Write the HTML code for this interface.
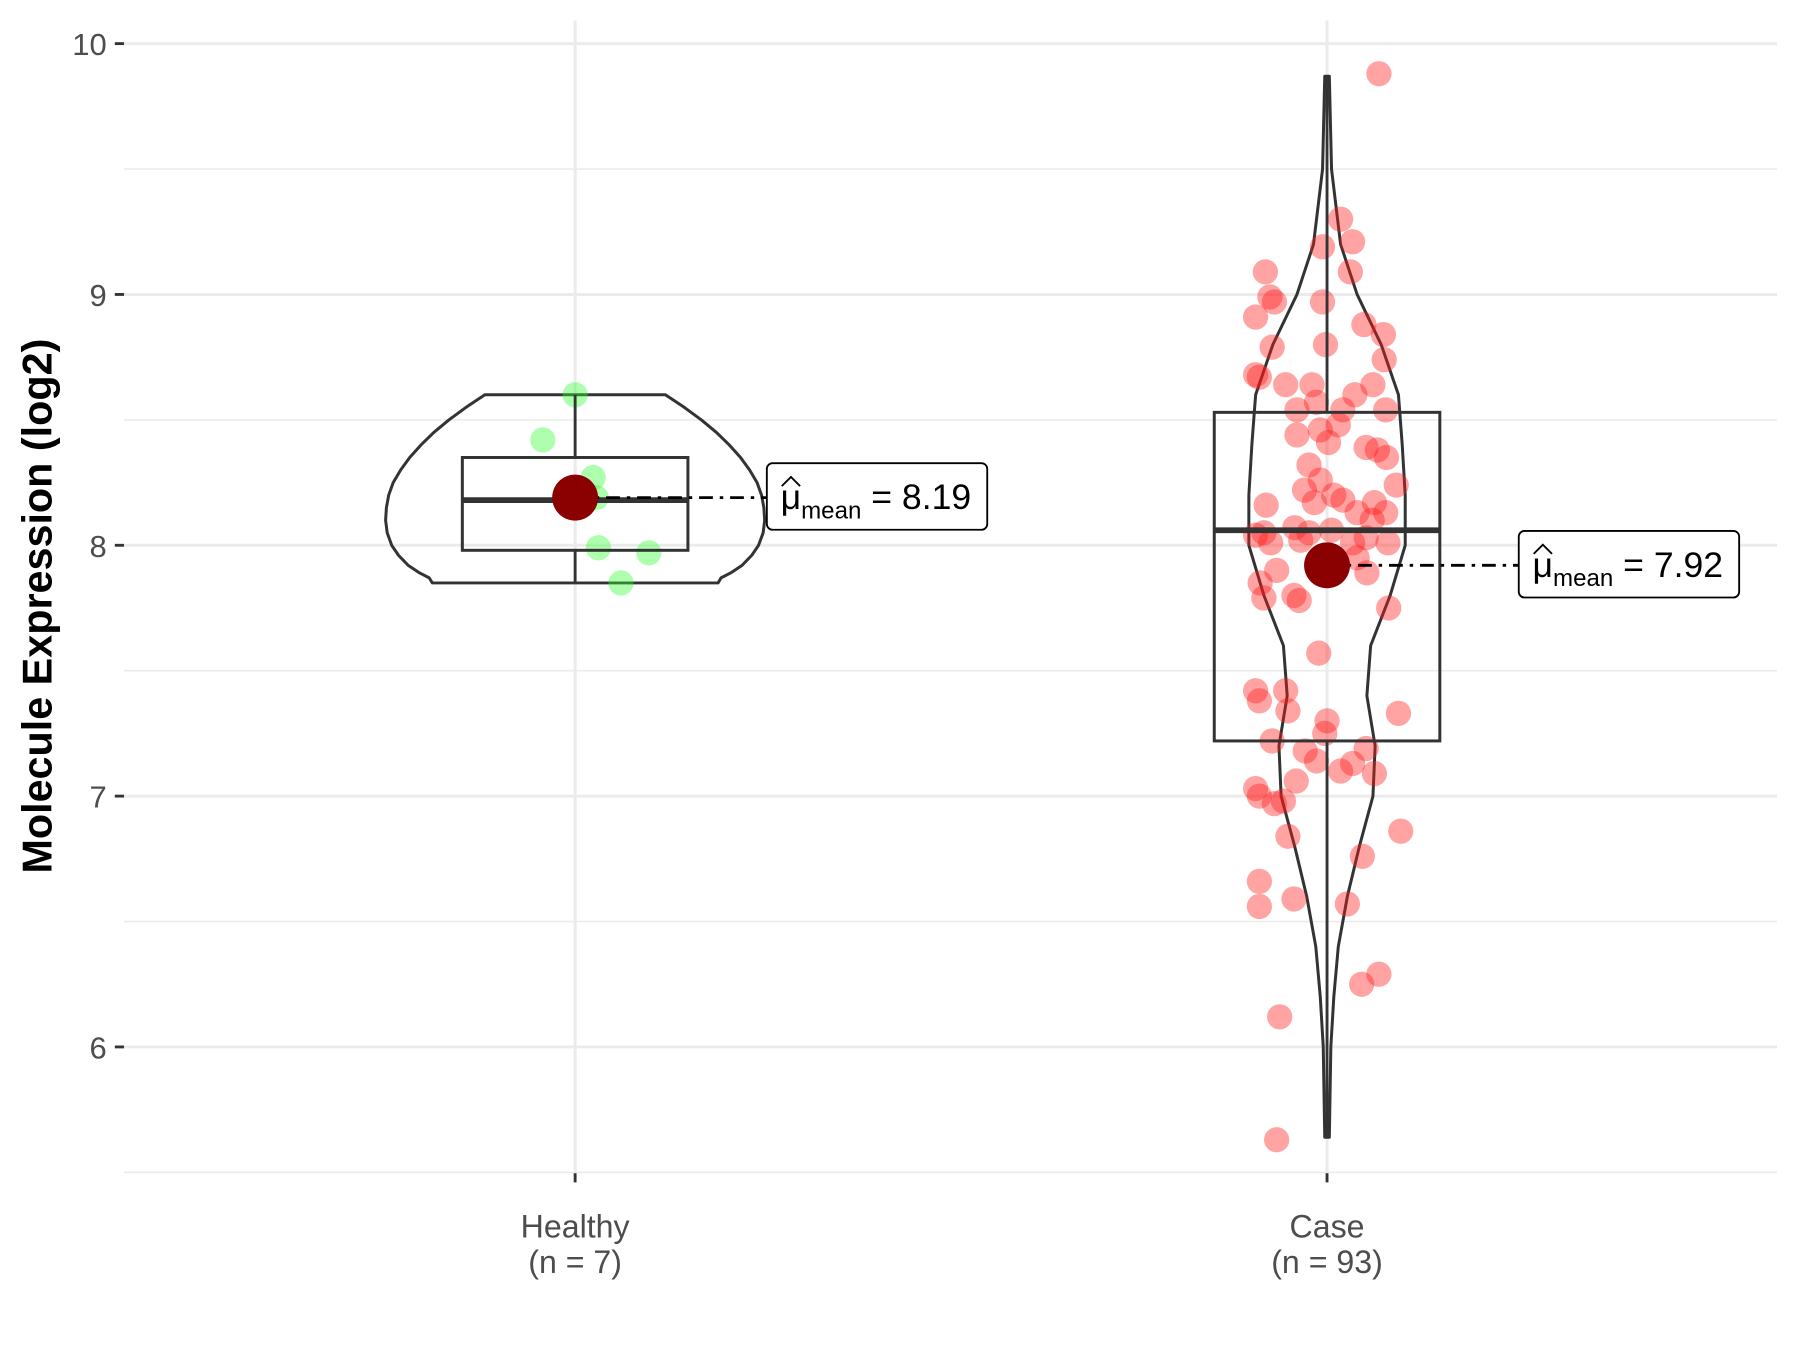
<!DOCTYPE html>
<html><head><meta charset="utf-8"><style>
html,body{margin:0;padding:0;background:#fff}
svg{display:block;font-family:"Liberation Sans",sans-serif}
</style></head><body>
<svg id="chart" width="1800" height="1350" viewBox="0 0 1568 1176" preserveAspectRatio="none" xmlns="http://www.w3.org/2000/svg">
<g id="grid"></g>
<g id="axes"></g>
<g id="marks"></g>
<text transform="translate(45,528) rotate(-90)" text-anchor="middle" font-size="36" font-weight="bold" fill="#000">Molecule Expression (log2)</text>
</svg>
<script>
const categories = ["Healthy","Case"];
const counts = [7,93];
const yTicks = [6,7,8,9,10];
const means = [8.19,7.92];
const q1s = [7.98,7.22];
const medians = [8.18,8.06];
const q3s = [8.35,8.53];
const whiskLo = [7.85,5.64];
const whiskHi = [8.60,9.87];
const healthyVals = [8.60,8.42,8.27,8.19,7.99,7.97,7.85];
const healthyJit = [0,-0.043,0.024,0.028,0.031,0.098,0.061];
const caseVals = [9.88,9.30,9.21,9.19,9.09,9.09,8.99,8.97,8.97,8.91,8.88,8.84,8.79,8.80,8.74,8.68,8.67,8.64,8.64,8.64,8.60,8.57,8.54,8.54,8.54,8.44,8.46,8.41,8.39,8.38,8.35,8.32,8.26,8.24,8.20,8.18,8.17,8.17,8.16,8.13,8.13,8.07,8.05,8.05,8.06,8.03,8.04,8.01,8.02,8.01,8.01,7.90,7.89,7.85,7.80,7.78,7.79,7.75,7.57,7.42,7.42,7.38,7.34,7.33,7.25,7.22,7.18,7.19,7.13,7.14,7.10,7.09,7.06,7.03,7.00,6.97,6.98,6.76,6.86,6.84,6.66,6.59,6.56,6.57,6.25,6.29,6.12,5.63,8.10,7.95,8.48,8.22,7.30];
const caseJit = [0.069,0.018,0.034,-0.006,-0.082,0.031,-0.076,-0.070,-0.006,-0.095,0.049,0.075,-0.073,-0.002,0.076,-0.095,-0.090,-0.055,-0.020,0.061,0.037,-0.014,-0.040,0.021,0.078,-0.040,-0.009,0.002,0.052,0.067,0.079,-0.024,-0.009,0.092,0.009,0.021,-0.017,0.063,-0.081,0.040,0.078,-0.043,-0.024,-0.084,0.006,0.052,-0.095,-0.075,-0.035,0.034,0.081,-0.067,0.053,-0.089,-0.044,-0.037,-0.084,0.082,-0.011,-0.055,-0.095,-0.090,-0.052,0.095,-0.003,-0.073,-0.029,0.052,0.034,-0.014,0.018,0.063,-0.041,-0.095,-0.090,-0.070,-0.058,0.047,0.098,-0.052,-0.090,-0.044,-0.090,0.027,0.046,0.069,-0.063,-0.067,0.06,0.04,0.015,-0.03,0.0];
const healthyViolinY = [8.60,8.55,8.5,8.45,8.4,8.35,8.3,8.25,8.2,8.15,8.1,8.05,8.0,7.96,7.92,7.89,7.87,7.85];
const healthyViolinW = [0.12,0.145,0.168,0.188,0.205,0.22,0.232,0.242,0.248,0.251,0.252,0.25,0.244,0.235,0.222,0.207,0.194,0.19];
const caseViolinY = [9.87,9.5,9.2,9.0,8.8,8.6,8.4,8.2,8.0,7.8,7.6,7.4,7.2,7.0,6.8,6.6,6.4,6.2,6.0,5.64];
const caseViolinW = [0.003,0.006,0.018,0.04,0.072,0.095,0.1,0.104,0.104,0.084,0.058,0.053,0.064,0.061,0.043,0.027,0.015,0.009,0.005,0.003];

const NS="http://www.w3.org/2000/svg";
const xs = c => 501 + c*655;
const xu = u => u*655;
const ys = v => 38 + (10 - v)*218.5;
function mk(parent,tag,attrs){const e=document.createElementNS(NS,tag);for(const k in attrs)e.setAttribute(k,attrs[k]);parent.appendChild(e);return e;}
const grid=document.getElementById('grid'),axes=document.getElementById('axes'),marks=document.getElementById('marks');
for(let v=5.5;v<=10;v+=0.5){
  const l=mk(grid,'line',{x1:108,x2:1548,y1:ys(v),y2:ys(v),stroke:'#ebebeb','stroke-width':v%1===0?2.6:1.4});
  
  
}
categories.forEach((c,i)=>{
  const l=mk(grid,'line',{x1:xs(i),x2:xs(i),y1:18,y2:1022,stroke:'#ebebeb','stroke-width':2.6});
  
  
  const t=mk(axes,'line',{x1:xs(i),x2:xs(i),y1:1022,y2:1030,stroke:'#333','stroke-width':2.5});
  
  
  const tx=mk(axes,'text',{x:xs(i),y:1078,'text-anchor':'middle','font-size':28,fill:'#4d4d4d'});
  
  
  tx.textContent=c;
  const tn=mk(axes,'text',{x:xs(i),y:1109,'text-anchor':'middle','font-size':28,fill:'#4d4d4d'});
  
  
  tn.textContent='(n = '+counts[i]+')';
});
yTicks.forEach(v=>{
  const t=mk(axes,'line',{x1:100,x2:108,y1:ys(v),y2:ys(v),stroke:'#333','stroke-width':2.5});
  
  
  const tx=mk(axes,'text',{x:93,y:ys(v)+10,'text-anchor':'end','font-size':27,fill:'#4d4d4d'});
  
  
  tx.textContent=v;
});
function violin(i,Y,W,name){
  let r=Y.map((y,k)=>[xs(i)+xu(W[k]),ys(y)]);
  let l=Y.map((y,k)=>[xs(i)-xu(W[k]),ys(y)]).reverse();
  const pts=r.concat(l);
  let d='M'+pts.map(p=>p[0].toFixed(1)+','+p[1].toFixed(1)).join(' L')+' Z';
  const p=mk(marks,'path',{d:d,fill:'none',stroke:'#333','stroke-width':2.6,'stroke-linejoin':'round'});
  
  
}
violin(0,healthyViolinY,healthyViolinW,'violin-healthy');
violin(1,caseViolinY,caseViolinW,'violin-case');
function points(i,V,J,color,name){
  V.forEach((v,k)=>{
    const c=mk(marks,'circle',{cx:xs(i)+xu(J[k]),cy:ys(v),r:11,fill:color,'fill-opacity':0.4});
    
    
  });
}
points(0,healthyVals,healthyJit,'#33ff33','point-healthy');
points(1,caseVals,caseJit,'#ff1a1a','point-case');
const boxW=[0.15,0.15];
categories.forEach((c,i)=>{
  const hw=xu(boxW[i]);
  const w1=mk(marks,'line',{x1:xs(i),x2:xs(i),y1:ys(whiskHi[i]),y2:ys(q3s[i]),stroke:'#333','stroke-width':2.5});
  
  
  const w2=mk(marks,'line',{x1:xs(i),x2:xs(i),y1:ys(q1s[i]),y2:ys(whiskLo[i]),stroke:'#333','stroke-width':2.5});
  
  
  const b=mk(marks,'rect',{x:xs(i)-hw,y:ys(q3s[i]),width:2*hw,height:ys(q1s[i])-ys(q3s[i]),fill:'none',stroke:'#333','stroke-width':2.6});
  
  
  const m=mk(marks,'line',{x1:xs(i)-hw,x2:xs(i)+hw,y1:ys(medians[i]),y2:ys(medians[i]),stroke:'#333','stroke-width':5});
  
  
  const lx=xs(i)+167, ly=ys(means[i]);
  const dl=mk(marks,'line',{x1:xs(i),x2:lx,y1:ly,y2:ly,stroke:'#000','stroke-width':2.5,'stroke-dasharray':'12,6,3,6'});
  
  
  const mc=mk(marks,'circle',{cx:xs(i),cy:ly,r:20,fill:'#8b0000'});
  
  
  const lb=mk(marks,'rect',{x:lx,y:ly-30,width:192,height:58,rx:5,fill:'#fff',stroke:'#000','stroke-width':1.6});
  
  
  const t=mk(marks,'text',{x:lx+12,y:ly+10,'font-size':31,fill:'#000'});
  
  
  t.innerHTML='μ<tspan font-size="21" dy="8">mean</tspan><tspan dy="-8"> = '+means[i].toFixed(2)+'</tspan>';
  const hat=mk(marks,'path',{d:`M${lx+13},${ly-10} L${lx+21},${ly-18} L${lx+29},${ly-10}`,fill:'none',stroke:'#000','stroke-width':1.6});
  
  
});
</script>
</body></html>
